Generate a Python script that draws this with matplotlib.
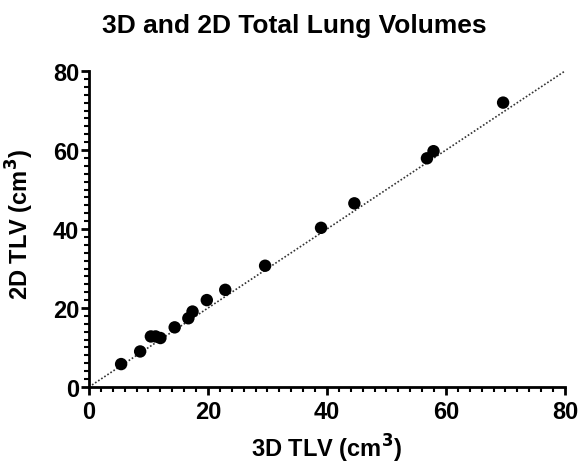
import matplotlib
matplotlib.use("Agg")
import matplotlib.pyplot as plt
from matplotlib.ticker import MultipleLocator

# 3D vs 2D total lung volumes (cm3)
tlv_3d = [5.4, 8.6, 10.4, 11.2, 12.0, 14.4, 16.7, 17.4, 19.8, 22.9, 29.6,
          39.0, 44.6, 56.8, 57.9, 69.6]
tlv_2d = [5.8, 9.0, 12.8, 12.8, 12.4, 15.1, 17.4, 19.1, 22.0, 24.6, 30.7,
          40.3, 46.5, 57.9, 59.7, 72.0]
line_x = [0, 80]
line_y = [0, 80]

plt.rcParams['font.family'] = ['Liberation Sans', 'DejaVu Sans']
plt.rcParams['font.weight'] = 'bold'
plt.rcParams['mathtext.default'] = 'bf'

fig = plt.figure(figsize=(5.79, 4.64), dpi=100)
ax = fig.add_axes([0.1537, 0.1638, 0.8221, 0.681])

ax.plot(line_x, line_y, color='#333333', linestyle=(0, (1, 1.2)), linewidth=1.2, zorder=1)
ax.scatter(tlv_3d, tlv_2d, s=80, color='black', edgecolors='none', zorder=3, clip_on=False)

ax.set_xlim(0, 80)
ax.set_ylim(0, 80)
ax.xaxis.set_major_locator(MultipleLocator(20))
ax.yaxis.set_major_locator(MultipleLocator(20))
ax.xaxis.set_minor_locator(MultipleLocator(2))
ax.yaxis.set_minor_locator(MultipleLocator(2))

for s in ['top', 'right']:
    ax.spines[s].set_visible(False)
for s in ['left', 'bottom']:
    ax.spines[s].set_linewidth(2)

ax.tick_params(which='major', length=6, width=2, labelsize=17)
ax.tick_params(axis='x', which='major', pad=3.2)
ax.tick_params(axis='y', which='major', pad=1)
ax.tick_params(which='minor', length=3.5, width=1.5)
for lab in ax.get_xticklabels() + ax.get_yticklabels():
    lab.set_fontweight('bold')

ax.set_xlabel('3D TLV (cm$^3$)', fontsize=17, fontweight='bold')
ax.set_ylabel('2D TLV (cm$^3$)', fontsize=17, fontweight='bold')
ax.xaxis.set_label_coords(0.5, -0.143)
ax.yaxis.set_label_coords(-0.112, 0.517)

fig.text(0.5087, 0.9289, '3D and 2D Total Lung Volumes', fontsize=19,
         fontweight='bold', ha='center', va='baseline')

plt.savefig('out.png', dpi=100)
